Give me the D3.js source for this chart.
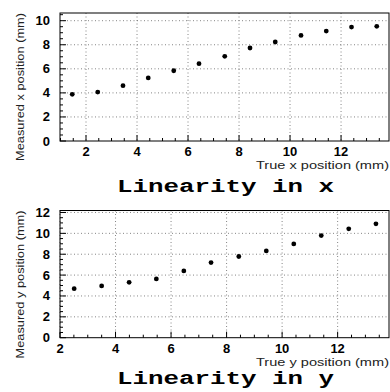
<!DOCTYPE html>
<html>
<head>
<meta charset="utf-8">
<script src="https://cdn.jsdelivr.net/npm/d3@7"></script>
<style>
  body { margin: 0; background: #fff; }
  svg { display: block; }
  .tick-label { font-family: "Liberation Sans", Arial, sans-serif; font-weight: bold; font-size: 13px; }
  .axis-title { font-family: "Liberation Sans", Arial, sans-serif; font-size: 10.5px; fill: #222; }
  .plot-title { font-family: "Liberation Mono", "DejaVu Sans Mono", monospace; font-weight: bold; font-size: 18.5px; }
</style>
</head>
<body>
<svg id="chart" width="390" height="392"></svg>
<script>
// readings from the picture
const trueX = [1.46, 2.46, 3.45, 4.44, 5.44, 6.43, 7.44, 8.43, 9.42, 10.43, 11.42, 12.41, 13.4];
const measX = [3.88, 4.07, 4.6, 5.24, 5.84, 6.43, 7.04, 7.73, 8.23, 8.78, 9.14, 9.47, 9.53];

const trueY = [2.51, 3.5, 4.49, 5.47, 6.46, 7.44, 8.44, 9.43, 10.42, 11.41, 12.4, 13.38];
const measY = [4.7, 4.96, 5.31, 5.63, 6.4, 7.2, 7.78, 8.32, 8.99, 9.79, 10.43, 10.91];

const xTicksTop = [2, 4, 6, 8, 10, 12];
const yTicksTop = [0, 2, 4, 6, 8, 10];
const xTicksBottom = [2, 4, 6, 8, 10, 12];
const yTicksBottom = [0, 2, 4, 6, 8, 10, 12];

const svg = d3.select("#chart");

const drawPanel = (cfg) => {
  const { top, bottom, xDomain, yDomain, xs, ys, xTicks, yTicks, xTitle, yTitle, title, titleY } = cfg;
  const left = 60, right = 389;

  const x = d3.scaleLinear().domain(xDomain).range([left, right]);
  const y = d3.scaleLinear().domain(yDomain).range([bottom, top]);

  const g = svg.append("g");

  // dotted grid
  g.append("g").selectAll("line").data(xTicks).enter().append("line")
    .attr("x1", d => x(d)).attr("x2", d => x(d))
    .attr("y1", top).attr("y2", bottom)
    .attr("stroke", "#666").attr("stroke-width", 0.8)
    .attr("stroke-dasharray", "1,2.5");
  g.append("g").selectAll("line").data(yTicks.filter(d => d > yDomain[0])).enter().append("line")
    .attr("x1", left).attr("x2", right)
    .attr("y1", d => y(d)).attr("y2", d => y(d))
    .attr("stroke", "#666").attr("stroke-width", 0.8)
    .attr("stroke-dasharray", "1,2.5");

  // inward ticks, root style
  const xMinor = d3.range(Math.ceil(xDomain[0] * 2) / 2, xDomain[1], 0.5);
  const yMinor = d3.range(Math.ceil(yDomain[0] * 2) / 2, yDomain[1], 0.5);
  g.append("g").selectAll("line").data(xMinor).enter().append("line")
    .attr("x1", d => x(d)).attr("x2", d => x(d))
    .attr("y1", bottom).attr("y2", d => bottom - (d % 2 === 0 ? 6 : 3))
    .attr("stroke", "#000");
  g.append("g").selectAll("line").data(yMinor).enter().append("line")
    .attr("y1", d => y(d)).attr("y2", d => y(d))
    .attr("x1", left).attr("x2", d => left + (d % 2 === 0 ? 6 : 3))
    .attr("stroke", "#000");

  // frame
  g.append("rect")
    .attr("x", left).attr("y", top)
    .attr("width", right - left).attr("height", bottom - top)
    .attr("fill", "none").attr("stroke", "#000").attr("stroke-width", 1);

  // tick labels
  g.append("g").selectAll("text").data(xTicks).enter().append("text")
    .attr("class", "tick-label")
    .attr("x", d => x(d)).attr("y", bottom + 15)
    .attr("text-anchor", "middle")
    .text(d => d);
  g.append("g").selectAll("text").data(yTicks).enter().append("text")
    .attr("class", "tick-label")
    .attr("x", left - 10).attr("y", d => y(d) + 4.5)
    .attr("text-anchor", "end")
    .text(d => d);

  // markers
  g.append("g").selectAll("circle").data(xs).enter().append("circle")
    .attr("cx", d => x(d)).attr("cy", (d, i) => y(ys[i]))
    .attr("r", 2.4).attr("fill", "#000");

  // axis titles
  g.append("text").attr("class", "axis-title")
    .attr("x", right).attr("y", bottom + 28)
    .attr("text-anchor", "end")
    .attr("textLength", 133).attr("lengthAdjust", "spacingAndGlyphs")
    .text(xTitle);
  g.append("text").attr("class", "axis-title")
    .attr("transform", `translate(24, ${top}) rotate(-90)`)
    .attr("text-anchor", "end")
    .attr("textLength", 148).attr("lengthAdjust", "spacingAndGlyphs")
    .text(yTitle);

  // panel title
  g.append("text").attr("class", "plot-title")
    .attr("x", 117).attr("y", titleY)
    .attr("textLength", 217).attr("lengthAdjust", "spacingAndGlyphs")
    .text(title);
};

drawPanel({
  top: 13, bottom: 141,
  xDomain: [0.98, 13.88], yDomain: [0, 10.64],
  xs: trueX, ys: measX,
  xTicks: xTicksTop, yTicks: yTicksTop,
  xTitle: "True x position (mm)", yTitle: "Measured x position (mm)",
  title: "Linearity in x", titleY: 192
});

drawPanel({
  top: 210.5, bottom: 337.7,
  xDomain: [2, 13.85], yDomain: [0, 12.19],
  xs: trueY, ys: measY,
  xTicks: xTicksBottom, yTicks: yTicksBottom,
  xTitle: "True y position (mm)", yTitle: "Measured y position (mm)",
  title: "Linearity in y", titleY: 384
});
</script>
</body>
</html>
